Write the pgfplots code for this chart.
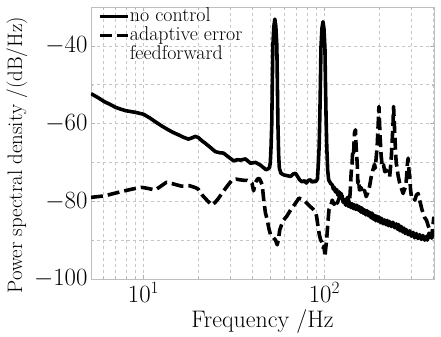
\documentclass[border=0pt]{standalone}
\usepackage{pgfplots}
\pgfplotsset{compat=1.18}
\pgfplotstableread{
f v
5.13 -52.3
5.6 -53.3
6.1 -54.4
6.5 -55.0
7.0 -55.8
7.5 -56.3
8.0 -56.7
9.0 -57.1
10.0 -57.6
10.8 -58.5
11.6 -59.5
12.6 -60.6
13.7 -61.6
14.6 -62.3
15.6 -62.9
16.6 -63.5
17.7 -64.0
18.5 -63.7
19.3 -63.3
20.1 -63.6
21.0 -64.4
22.0 -65.1
23.5 -66.2
24.9 -67.2
26.3 -67.5
27.7 -67.6
29.5 -68.6
31.5 -69.6
33.0 -69.3
34.4 -69.4
36.6 -69.1
39.0 -70.2
41.6 -70.0
44.3 -70.7
46.5 -71.5
47.5 -71.9
48.9 -71.6
49.7 -71.3
50.22 -70
50.69 -66
51.16 -60
51.5 -50
51.87 -40
52.53 -35
53.2 -33.1
53.88 -35
54.57 -40
54.95 -50
55.32 -60
55.83 -68
56.35 -71.5
57.5 -72.8
59.6 -73.2
62 -73.4
65.1 -73.6
67 -73.0
69.2 -72.8
71 -73.6
73 -74.5
75.4 -75.0
77.5 -74.7
79.5 -75.3
81.5 -74.6
83.6 -74.5
85.5 -75.1
87.3 -74.8
89.2 -75.0
90.5 -74.6
91.5 -74.2
92.35 -71
93.47 -66
94.3 -58
94.97 -50
95.64 -40.5
96.87 -35.5
98.1 -33.8
99.35 -35.5
100.62 -40.5
101.33 -50
102.05 -58
102.99 -66
104.2 -72
105.5 -74.5
108.2 -75.4
110.5 -75.8
112 -76.9
113.4 -76.4
115 -77.6
117 -77.0
118.5 -78.4
120.9 -77.6
123 -79.2
125 -78.5
127 -80.3
129 -79.6
131 -81.0
133 -80.0
135.5 -81.3
137.4 -80.4
140 -81.6
142 -80.6
144.5 -81.9
146.4 -80.9
149 -82.1
151 -81.0
154 -82.3
156.1 -81.4
159 -82.8
161 -81.7
164 -83.1
166.6 -82.2
169.5 -83.5
172 -82.4
175 -83.7
177.5 -82.8
180.5 -84.2
183 -83.0
186 -84.6
189.2 -83.6
192 -85.0
194.5 -83.8
197.5 -85.1
200 -84.0
204 -85.5
207 -84.4
211 -85.8
215 -84.8
218.5 -86.0
222 -84.9
225.5 -86.3
229 -85.2
234 -86.5
239 -85.4
244 -86.8
249.4 -85.8
253 -87.2
257 -86.0
261.5 -87.6
266 -86.5
270.5 -87.9
275 -86.9
279 -88.3
283.6 -87.3
290 -88.6
296 -87.6
302 -89.0
309 -88.0
315 -89.4
322 -88.3
329 -89.6
336 -88.6
343 -89.8
350 -88.8
358 -90.0
366 -89.0
370 -90.0
374 -89.2
378 -88.2
382 -89.3
387 -88.4
392 -89.5
397 -88.3
403 -87.9
}\nocontrol
\pgfplotstableread{
f v
5.13 -79.0
6.1 -78.6
7.55 -77.5
8.6 -76.9
9.75 -76.4
10.6 -76.7
11.6 -77.1
12.4 -76.2
13.4 -75.1
14.8 -75.6
16.2 -76.1
18.0 -76.0
19.4 -76.5
20.1 -76.9
21.1 -78.4
22.5 -79.8
23.9 -81.0
25.0 -80.2
26.0 -79.2
27.2 -77.9
28.4 -76.7
29.7 -75.5
30.9 -74.5
32.5 -74.3
34.4 -74.5
36.0 -74.6
37.4 -74.6
39.0 -75.0
39.8 -75.4
40.6 -77.3
41.6 -75.2
42.6 -74.3
43.6 -74.1
44.5 -74.9
45.3 -75.8
46.2 -79.7
47.2 -83.0
48.3 -84.8
49.3 -87.0
50.4 -88.7
51.5 -89.0
52.5 -89.5
53.7 -90.0
54.8 -91.2
55.6 -90.0
56.6 -87.4
58.0 -86.0
59.6 -84.8
62 -83.8
65.1 -82.2
68.5 -80.8
72.3 -79.2
74.5 -79.4
76.9 -79.7
80 -80.5
83.6 -81.4
86.5 -82.0
89.2 -82.7
90.6 -84.0
91.9 -86.1
93.6 -88.5
95.3 -90.0
97.0 -90.5
98.6 -92.1
99.6 -91.5
100.6 -94.3
101.7 -92.0
102.8 -90.0
104.3 -86.0
105.9 -82.2
108 -81.4
110.4 -79.7
113 -80.8
115.8 -79.7
117.7 -80.5
120.5 -79.2
123.5 -78.0
127.5 -79.2
131.6 -79.7
134.5 -79.0
137.4 -80.6
139 -77
140.4 -72.8
142 -70.5
143.4 -66.8
145 -67.5
146.4 -62.5
148.4 -61.6
149.6 -66
150.9 -68.5
152 -71
152.9 -75.3
154.5 -74.5
156.1 -77.1
159.5 -76.5
163 -78.0
166.5 -77.2
170.1 -78.8
173.5 -77.8
177.5 -76.2
181.3 -73.7
185.2 -72.0
189 -70.5
191 -71.5
193.3 -68.5
195.5 -66
197.5 -61.6
200 -55.6
201.6 -60
203.4 -64.2
205.5 -68
208.7 -71.1
212 -70.6
215.5 -72.4
219.7 -72.0
224 -72.8
229.2 -73.7
231.5 -71.5
234.2 -68.5
237 -64
239.3 -59.9
241 -55.6
243 -59.5
245.5 -64.2
247.5 -68
249.4 -70.2
252 -71.5
255.5 -73.5
260.4 -75.3
265.5 -76.5
272 -78.0
276.5 -77.0
281.3 -76.2
284.5 -73.5
287 -70.5
290 -68.9
293 -72.0
296.1 -73.7
299 -77.0
302.5 -78.8
309 -78.6
315.8 -79.7
322 -78.4
329.6 -78.0
334.5 -79.5
339.6 -80.6
345 -82.0
351 -83.1
358 -84.2
366.6 -84.9
374 -86.2
382 -87.4
386 -88.0
390.8 -89.1
396 -87.0
400 -85.0
403 -84.0
}\adaptive
\begin{document}
\begin{tikzpicture}
\begin{axis}[
 name=main,
 xmode=log, xmin=5.13, xmax=403, ymin=-100, ymax=-30,
 scale only axis, width=343bp, height=272bp,
 ytick={-100,-80,-60,-40}, minor ytick={-90,-70,-50},
 grid=both,
 major grid style={dashed, gray!45, line width=0.5pt},
 minor grid style={dashed, gray!45, line width=0.5pt},
 axis line style={gray!50},
 tick style={gray!60},
 major tick length=4pt, minor tick length=2pt,
 tick label style={font=\fontsize{23}{25}\selectfont},
 xlabel style={font=\fontsize{24}{26}\selectfont},
 ylabel style={font=\fontsize{21}{23}\selectfont, at={(ticklabel cs:0.455)}},
 xlabel={Frequency /Hz},
 ylabel={Power spectral density /(dB/Hz)},
 legend cell align=left,
 legend style={draw=none, fill=none, at={(0.02,1.0)}, anchor=north west,
   font=\fontsize{20}{20}\selectfont, row sep=0pt, inner sep=0pt,
   nodes={inner sep=0pt, text height=14.5pt, text depth=4.5pt}},
 legend image code/.code={\draw[#1] (0cm,0cm) -- (1cm,0cm);},
]
\addplot[black, line width=3.6pt, line join=round] table[x=f,y=v]{\nocontrol};
\addlegendentry{no control}
\addplot[black, line width=3.6pt, line join=round, dash pattern=on 12pt off 5pt] table[x=f,y=v]{\adaptive};
\addlegendentry{adaptive error}
\addlegendimage{empty legend}
\addlegendentry{feedforward}
\end{axis}
\path ([shift={(-91bp,-54bp)}]main.south west) rectangle ([shift={(7bp,7bp)}]main.north east);
\end{tikzpicture}
\end{document}
